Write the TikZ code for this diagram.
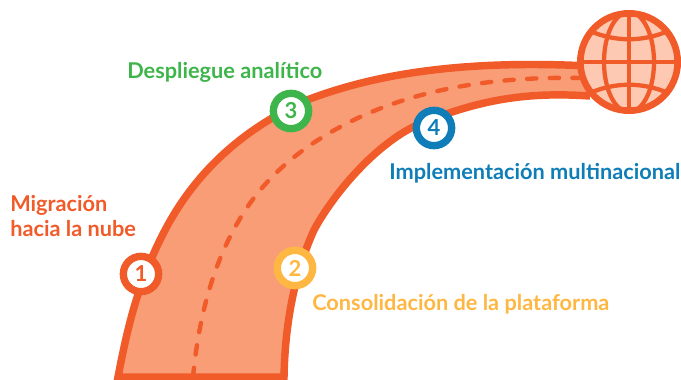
\documentclass[tikz,border=0pt]{standalone}
\usepackage{fontspec}
\setmainfont{Lato}
\definecolor{rd}{HTML}{F15A29}
\definecolor{rdfill}{HTML}{F99D77}
\definecolor{glob}{HTML}{FDC9B2}
\definecolor{grn}{HTML}{3DB54A}
\definecolor{blu}{HTML}{0F7DB8}
\definecolor{yel}{HTML}{FFB743}
\tikzset{
 badge/.style={circle,draw=#1,line width=5.5pt,fill=white,text=#1,minimum size=26.5pt,inner sep=0pt,font=\fontsize{16.5}{17}\selectfont\bfseries},
 lab/.style={text=#1,font=\fontsize{16.3}{18.8}\selectfont\bfseries,inner sep=0pt,align=left},
 edge/.style={draw=rd,line width=5.6pt,line cap=butt,line join=miter}
}
\begin{document}
\begin{tikzpicture}[x=0.75pt,y=-0.75pt]
\useasboundingbox (0,0) rectangle (681,379);
\def\roadP{(590,66) .. controls (470,60) and (380,72) .. (307,100) .. controls (240,130) and (193,175) .. (163,234) .. controls (137,285) and (127,330) .. (118,377) -- (284,377) .. controls (285,320) and (296,270) .. (314,230) .. controls (333,195) and (372,148) .. (413,127) .. controls (480,98) and (530,92) .. (590,96)}
\begin{scope}
\clip (0,0) rectangle (681,379);
\fill[rdfill] \roadP -- cycle;
\draw[edge] \roadP;
\end{scope}
\draw[rd,line width=3.3pt,line cap=round,dash pattern=on 7pt off 10pt]
 (193,377) .. controls (198,325) and (210,270) .. (238,222) .. controls (262,180) and (300,145) .. (360,117) .. controls (410,94) and (480,76) .. (580,78);
% globe
\node[circle,draw=rd,fill=glob,line width=5pt,minimum size=73pt,inner sep=0pt] (globe) at (629,62) {};
\begin{scope}
\clip (629,62) circle (50);
\draw[rd,line width=3.2pt] (629,10) -- (629,114) (578,62) -- (680,62);
\draw[rd,line width=3.2pt] (629,62) ellipse (25 and 50);
\draw[rd,line width=3.2pt] (590,31) .. controls (615,42) and (643,42) .. (668,31);
\draw[rd,line width=3.2pt] (590,93) .. controls (615,82) and (643,82) .. (668,93);
\end{scope}
\node[badge=rd] (n1) at (141,274) {1};
\node[badge=yel] (n2) at (295,268) {2};
\node[badge=grn] (n3) at (291,111) {3};
\node[badge=blu] (n4) at (434,128) {4};
\node[lab=rd,anchor=north west] (t1) at (10,195) {Migración\\hacia la nube};
\node[lab=yel,anchor=west] (t2) at (312,304) {Consolidación de la plataforma};
\node[lab=grn,anchor=west] (t3) at (127,72) {Despliegue analítico};
\node[lab=blu,anchor=west] (t4) at (389,173) {Implementación multinacional};
\end{tikzpicture}
\end{document}
